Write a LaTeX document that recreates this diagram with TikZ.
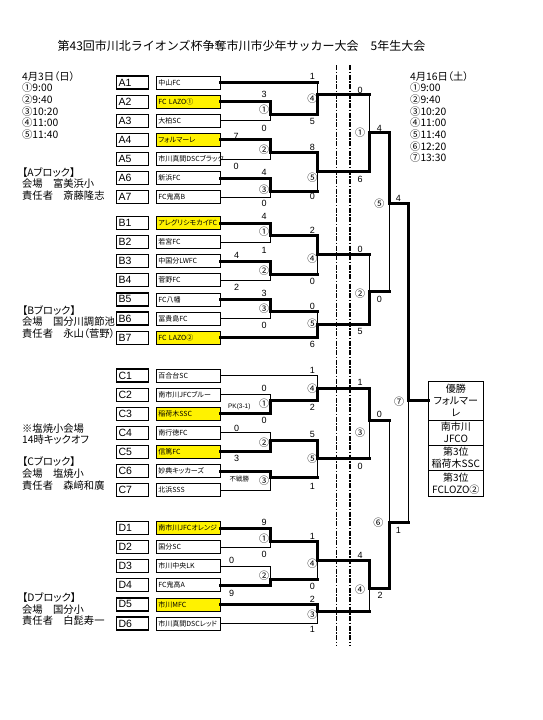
\documentclass[tikz,border=0pt]{standalone}
\usepackage{fontspec}
\setmainfont{Liberation Sans}
\newfontfamily\jp{Noto Sans CJK JP}
\newfontfamily\jpp{Noto Sans CJK JP}[RawFeature=+palt]
\usetikzlibrary{positioning}

\tikzset{
  code/.style={draw, line width=1.2pt, anchor=west, text width=28pt, inner xsep=2pt, inner ysep=0pt, minimum height=13pt, font=\fontsize{10.5}{10.5}\selectfont},
  team/.style={draw, line width=0.8pt, anchor=west, text width=60pt, inner xsep=2pt, inner ysep=0pt, minimum height=13pt, font=\jpp\fontsize{7}{7}\selectfont},
  wonline/.style={line width=3pt, line cap=rect},
  lostline/.style={line width=0.8pt},
  score/.style={font=\fontsize{9}{9}\selectfont, inner sep=0pt},
  mno/.style={font=\jp\fontsize{10}{10}\selectfont, inner sep=0pt},
  info/.style={anchor=north west, align=left, inner sep=0pt, font=\jpp\fontsize{10.3}{11.7}\selectfont},
  cbox/.style={draw, line width=1pt, text width=51pt, inner xsep=2pt, inner ysep=0pt, outer sep=0pt, align=center, anchor=north, font=\jpp\fontsize{10}{12}\selectfont}
}
\newcommand\lost[2]{\draw[wonline] (#1) -- (#1 -| #2); \draw[lostline] (#1 -| #2) -- (#2);}

\begin{document}
\begin{tikzpicture}[x=1pt, y=-1pt]
\useasboundingbox (0,0) rectangle (543,720);
\node[font=\jp\fontsize{12}{12}\selectfont] (title) at (241.5,46) {第43回市川北ライオンズ杯争奪市川市少年サッカー大会　5年生大会};

\node[info] (day1) at (22,71) {4月3日（日）\\①9:00\\②9:40\\③10:20\\④11:00\\⑤11:40};
\node[info] (day2) at (410,71) {4月16日（土）\\①9:00\\②9:40\\③10:20\\④11:00\\⑤11:40\\⑥12:20\\⑦13:30};
\node[info] (infoA) at (22,167) {【Aブロック】\\会場　富美浜小\\責任者　斎藤隆志};
\node[info] (infoB) at (22,305) {【Bブロック】\\会場　国分川調節池\\責任者　永山（菅野）};
\node[info] (noteC) at (22,423.3) {※塩焼小会場\\14時キックオフ};
\node[info] (infoC) at (22,456.7) {【Cブロック】\\会場　塩焼小\\責任者　森﨑和廣};
\node[info] (infoD) at (22,592.3) {【Dブロック】\\会場　国分小\\責任者　白髭寿一};

\foreach \t/\f [count=\i] in {中山FC/white, FC LAZO①/yellow, 大柏SC/white, フォルマーレ/yellow, 市川真間DSCブラック/white, 新浜FC/white, FC鬼高B/white}{
  \node[code] (cA\i) at (116,63.4+19.1*\i) {A\i};
  \node[team, fill=\f] (A\i) at (156,63.4+19.1*\i) {\t};
}
\foreach \t/\f [count=\i] in {アレグリシモカイFC/yellow, 若宮FC/white, 中国分LWFC/white, 菅野FC/white, FC八幡/white, 冨貴島FC/white, FC LAZO②/yellow}{
  \node[code] (cB\i) at (116,203.9+19.1*\i) {B\i};
  \node[team, fill=\f] (B\i) at (156,203.9+19.1*\i) {\t};
}
\foreach \t/\f [count=\i] in {百合台SC/white, 南市川JFCブルー/white, 稲荷木SSC/yellow, 南行徳FC/white, 信篤FC/yellow, 妙典キッカーズ/white, 北浜SSS/white}{
  \node[code] (cC\i) at (116,356.4+19.1*\i) {C\i};
  \node[team, fill=\f] (C\i) at (156,356.4+19.1*\i) {\t};
}
\foreach \t/\f [count=\i] in {南市川JFCオレンジ/yellow, 国分SC/white, 市川中央LK/white, FC鬼高A/white, 市川MFC/yellow, 市川真間DSCレッド/white}{
  \node[code] (cD\i) at (116,508.9+19.1*\i) {D\i};
  \node[team, fill=\f] (D\i) at (156,508.9+19.1*\i) {\t};
}

\node[cbox, minimum height=38.3pt] (champ) at (455.8,381.7) {優勝\\フォルマー\\レ};
\node[cbox, minimum height=25pt, below=0pt of champ] (second) {南市川\\JFCO};
\node[cbox, minimum height=25.7pt, below=0pt of second] (thirdA) {第3位\\稲荷木SSC};
\node[cbox, minimum height=25.3pt, below=0pt of thirdA] (thirdB) {第3位\\FCLOZO②};

\foreach \m/\x/\y in {a1/270/114.3, a2/270/152.7, a3/270/191, a4/317.3/94.3, a5/317.3/171,
  b1/270/235, b2/270/274, b3/270/311.7, b4/317.3/254, b5/317.3/324,
  c1/270/400.7, c2/270/440, c3/270/477.3, c4/317.3/388.3, c5/317.3/458,
  d1/270/541.7, d2/270/579.3, d3/317.3/611.7, d4/317.3/560,
  k1/369.3/132.7, k2/369.3/291.7, k3/369.3/420, k4/369.3/588, k5/389.3/203.3, k6/389.3/522.7, k7/408.3/400.7}
  \coordinate (\m) at (\x,\y);

\draw[line width=1.2pt, dash pattern=on 5pt off 1.5pt on 1.5pt off 1.5pt] (336.7,65) -- (336.7,645) (350,65) -- (350,645);

\foreach \t/\m in {A3/a1, A5/a2, A7/a3, B2/b1, B4/b2, B6/b3, C1/c4, C2/c1, C4/c2, C7/c3, D2/d1, D3/d2, D6/d3}
  \draw[lostline] (\t.east) -| (\m);
\lost{A1.east}{a4}
\draw[wonline] (A4.east) -| (a2) -| (a5) -| (k1) -| (k5) -| (k7) -- (k7 -| champ.west);
\draw[wonline] (A2.east) -| (a1) -| (a4); \lost{a4}{k1}
\draw[wonline] (A6.east) -| (a3); \lost{a3}{a5}
\draw[wonline] (B1.east) -| (b1) -| (b4); \lost{b4}{k2}
\draw[wonline] (B3.east) -| (b2); \lost{b2}{b4}
\draw[wonline] (B5.east) -| (b3); \lost{b3}{b5}
\draw[wonline] (B7.east) -| (b5) -| (k2); \lost{k2}{k5}
\draw[wonline] (C3.east) -| (c1) -| (c4) -| (k3); \lost{k3}{k6}
\draw[wonline] (C5.east) -| (c2) -| (c5); \lost{c5}{k3}
\draw[wonline] (C6.east) -| (c3); \lost{c3}{c5}
\draw[wonline] (D1.east) -| (d1) -| (d4) -| (k4) -| (k6); \lost{k6}{k7}
\draw[wonline] (D4.east) -| (d2); \lost{d2}{d4}
\draw[wonline] (D5.east) -| (d3); \lost{d3}{k4}

\foreach \x/\y/\s [count=\i] in {312.3/76.7/1, 312.3/121/5, 264/94.3/3, 264/128.3/0, 236/136/7, 236/166/0, 312.3/147.3/8, 312.3/196.7/0, 264/172.3/4, 264/203.3/0,
  264/216.7/4, 264/250/1, 236.7/255/4, 236.7/287.3/2, 312.3/230.7/2, 312.3/281/0, 264/293.3/3, 264/325/0, 312.3/306/0, 312.3/344/6,
  312.3/370/1, 264/388.3/0, 264/420/0, 312.3/407.7/2, 236.7/428.3/0, 236.7/458.3/3, 312.3/434/5, 312.3/486/1,
  264/522.7/9, 264/554.3/0, 231.7/560.7/0, 231.7/593.3/9, 312.3/536/1, 312.3/586.7/0, 312.3/599.3/2, 312.3/629.3/1,
  360/90.7/0, 360/179/6, 360/249.7/0, 360/331.7/5, 360/382.7/1, 360/466/0, 360/555/4,
  379.3/128.3/4, 379.3/299/0, 379.3/414/0, 380/595/2, 398.3/198.3/4, 398.3/530/1}
  \node[score] (s\i) at (\x,\y) {\s};
\node[score, font=\fontsize{6.5}{7}\selectfont] (pk) at (239.3,407.3) {PK(3-1)};
\node[score, font=\jpp\fontsize{6.5}{7}\selectfont] (bye) at (239.3,479) {不戦勝};

\foreach \x/\y/\m [count=\i] in {264/110/①, 264/149.3/②, 264/190/③, 312.3/99/④, 312.3/177.3/⑤,
  264/231.7/①, 264/270.7/②, 264/308.3/③, 312.3/258.3/④, 312.3/324/⑤,
  264/403.3/①, 264/442.7/②, 264/480.7/③, 312.3/388.3/④, 312.3/458.3/⑤,
  264/538.3/①, 264/576/②, 312.3/564/④, 312.3/615/③,
  360/132.7/①, 360/293.3/②, 360/432.7/③, 360/590/④, 379.3/203.3/⑤, 378.3/522.7/⑥, 399/401.7/⑦}
  \node[mno] (n\i) at (\x,\y) {\m};
\end{tikzpicture}
\end{document}
